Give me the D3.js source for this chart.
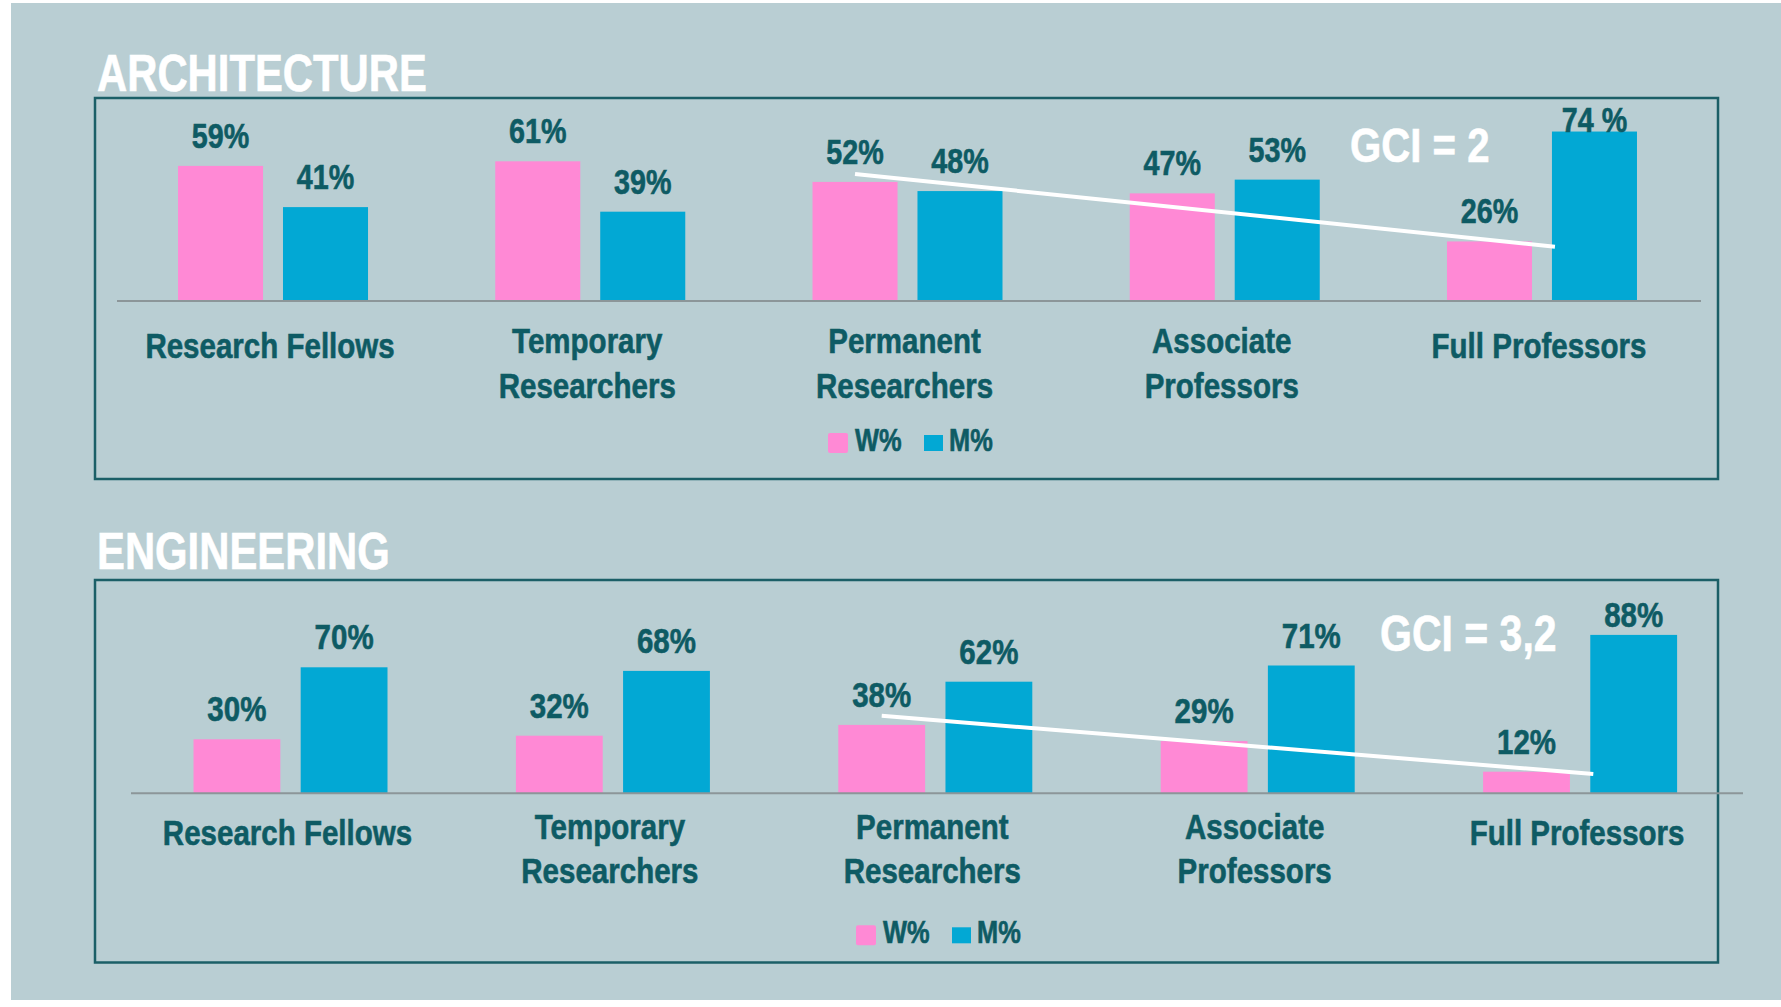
<!DOCTYPE html>
<html>
<head>
<meta charset="utf-8">
<script src="https://cdn.jsdelivr.net/npm/d3@7"></script>
<style>
  html, body { margin: 0; padding: 0; background: #fff; }
  svg text { font-family: "Liberation Sans Narrow", "Arial Narrow", "Liberation Sans", Arial, sans-serif; font-weight: bold; }
</style>
</head>
<body>
<script>
// categories and values
var categories = ["Research Fellows", "Temporary Researchers", "Permanent Researchers", "Associate Professors", "Full Professors"];
var categoryLines = [["Research Fellows"], ["Temporary", "Researchers"], ["Permanent", "Researchers"], ["Associate", "Professors"], ["Full Professors"]];
var seriesKeys = ["W%", "M%"];

var archWomen = [59, 61, 52, 47, 26];
var archMen = [41, 39, 48, 53, 74];
var archMenLabels = ["41%", "39%", "48%", "53%", "74 %"];

var engWomen = [30, 32, 38, 29, 12];
var engMen = [70, 68, 62, 71, 88];
var engMenLabels = ["70%", "68%", "62%", "71%", "88%"];

// white trend line over the women bars (from permanent researchers to full professors)
var archTrend = [55.5, 23.7];
var engTrend = [43.1, 10.7];

var gciLabels = ["GCI = 2", "GCI = 3,2"];
var panelTitles = ["ARCHITECTURE", "ENGINEERING"];

var pink = "#ff89d5", blue = "#02a8d4", ink = "#0e5b64";
var NARROW = 0.82; // no narrow face installed, squeeze the bold sans

var W = 1781, H = 1007;
var svg = d3.select("body").append("svg")
    .attr("width", W)
    .attr("height", H);

// text squeezed horizontally around its anchor point
function narrowText(parent, x, y, size, anchor, color) {
    return parent.append("g")
        .attr("transform", "translate(" + x + "," + y + ") scale(" + NARROW + ",1)")
        .append("text")
        .attr("text-anchor", anchor || "start")
        .attr("fill", color)
        .attr("stroke", color)
        .attr("stroke-width", 0.6)
        .style("font-size", size + "px");
}

// slide background
svg.append("rect")
    .attr("x", 11).attr("y", 3)
    .attr("width", W - 11).attr("height", 997)
    .attr("fill", "#b9ced3");

function drawPanel(cfg) {
    var g = svg.append("g");

    narrowText(g, 97, cfg.titleY, 51, "start", "#fff")
        .text(cfg.title);

    g.append("rect")
        .attr("x", 95).attr("y", cfg.top)
        .attr("width", 1718 - 95).attr("height", cfg.bottom - cfg.top)
        .attr("fill", "none")
        .attr("stroke", "#1b5f67")
        .attr("stroke-width", 2.5);

    var x0 = d3.scaleBand().domain(categories).range(cfg.xRange);
    var x1 = d3.scaleBand().domain(seriesKeys)
        .range([-cfg.groupWidth / 2, cfg.groupWidth / 2])
        .paddingInner(0.19);
    var y = d3.scaleLinear().domain([0, 100]).range([cfg.axisY, cfg.axisY - cfg.pxPer100]);

    var rows = categories.map(function(c, i) {
        return { cat: c, lines: categoryLines[i], vals: [
            { key: "W%", v: cfg.women[i], label: cfg.women[i] + "%" },
            { key: "M%", v: cfg.men[i], label: cfg.menLabels[i] }
        ]};
    });

    var groups = g.selectAll(".grp")
        .data(rows)
        .enter()
        .append("g")
        .attr("class", "grp")
        .attr("transform", function(d) { return "translate(" + (x0(d.cat) + x0.bandwidth() / 2) + ",0)"; });

    groups.selectAll("rect")
        .data(function(d) { return d.vals; })
        .enter()
        .append("rect")
        .attr("x", function(d) { return x1(d.key); })
        .attr("width", x1.bandwidth())
        .attr("y", function(d) { return y(d.v); })
        .attr("height", function(d) { return cfg.axisY - y(d.v); })
        .attr("fill", function(d) { return d.key === "W%" ? pink : blue; });

    // value labels
    groups.each(function(row) {
        var grp = d3.select(this);
        row.vals.forEach(function(d) {
            narrowText(grp, x1(d.key) + x1.bandwidth() / 2, Math.max(y(d.v) - 18, cfg.minLabelY), cfg.valueFont, "middle", ink)
                .text(d.label);
        });
    });

    // baseline
    g.append("line")
        .attr("x1", cfg.axisLine[0]).attr("x2", cfg.axisLine[1])
        .attr("y1", cfg.axisY).attr("y2", cfg.axisY)
        .attr("stroke", "#8c9699")
        .attr("stroke-width", 2);

    // category labels
    groups.each(function(d) {
        var offs = d.lines.length === 1 ? [cfg.singleDy] : cfg.doubleDy;
        var t = narrowText(d3.select(this), -3, cfg.axisY, 36, "middle", ink);
        d.lines.forEach(function(line, k) {
            t.append("tspan")
                .attr("x", 0)
                .attr("y", offs[k])
                .text(line);
        });
    });

    // trend line
    var xs = x0("Permanent Researchers") + x0.bandwidth() / 2 + x1("W%") + x1.bandwidth() / 2;
    var xe = x0("Full Professors") + x0.bandwidth() / 2 + x1("M%");
    g.append("line")
        .attr("x1", xs).attr("y1", y(cfg.trend[0]))
        .attr("x2", xe + 3).attr("y2", y(cfg.trend[1]))
        .attr("stroke", "#fff")
        .attr("stroke-width", 4);

    narrowText(g, cfg.gciX, cfg.gciY, cfg.gciFont, "start", "#fff")
        .text(cfg.gci);

    // legend
    var cx = (cfg.axisLine[0] + cfg.axisLine[1]) / 2 - 81;
    var ly = cfg.axisY + 150;
    var leg = g.append("g").attr("transform", "translate(" + cx + "," + ly + ")");
    leg.append("rect").attr("x", 0).attr("y", -18).attr("width", 20).attr("height", 20)
        .attr("rx", 2).attr("fill", pink);
    narrowText(leg, 27, 0, 31, "start", ink).text(seriesKeys[0]);
    leg.append("rect").attr("x", 96).attr("y", -16).attr("width", 19).attr("height", 16)
        .attr("fill", blue);
    narrowText(leg, 121, 0, 31, "start", ink).text(seriesKeys[1]);
}

drawPanel({
    title: panelTitles[0], titleY: 91, top: 98, bottom: 479,
    axisY: 301, xRange: [114.4, 1700.6], axisLine: [117, 1701],
    pxPer100: 229, groupWidth: 190, valueFont: 35, minLabelY: 132,
    women: archWomen, men: archMen, menLabels: archMenLabels,
    trend: archTrend, gci: gciLabels[0], gciX: 1350, gciY: 162, gciFont: 49,
    singleDy: 57, doubleDy: [52, 97]
});

drawPanel({
    title: panelTitles[1], titleY: 569, top: 580, bottom: 962.5,
    axisY: 793.3, xRange: [129.3, 1741.3], axisLine: [131, 1743],
    pxPer100: 180, groupWidth: 194, valueFont: 36, minLabelY: 627,
    women: engWomen, men: engMen, menLabels: engMenLabels,
    trend: engTrend, gci: gciLabels[1], gciX: 1380, gciY: 651, gciFont: 50,
    singleDy: 52, doubleDy: [46, 90]
});
</script>
</body>
</html>
